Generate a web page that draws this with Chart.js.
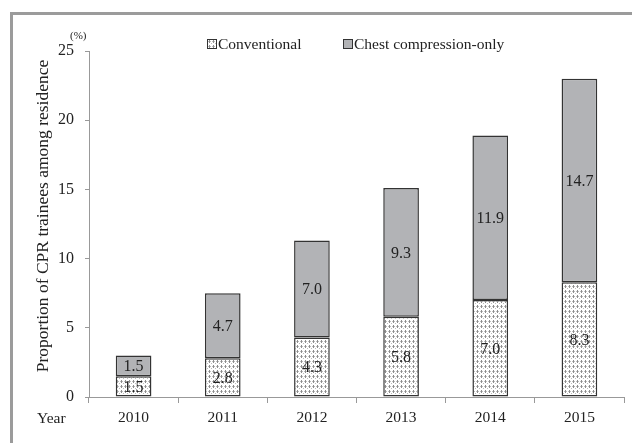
<!DOCTYPE html>
<html>
<head>
<meta charset="utf-8">
<script src="https://cdn.jsdelivr.net/npm/chart.js@4/dist/chart.umd.min.js"></script>
<style>
  html, body { margin: 0; padding: 0; background: #fff; }
  #wrap { position: relative; width: 632px; height: 443px; overflow: hidden; }
  #frame { position: absolute; left: 10px; top: 12px; width: 700px; height: 500px;
           border-left: 3px solid #9b9b9b; border-top: 3px solid #9b9b9b; }
  canvas { position: absolute; left: 0; top: 0; }
</style>
</head>
<body>
<div id="wrap">
  <div id="frame"></div>
  <canvas id="chart" width="632" height="443"></canvas>
</div>
<script>
const years = ['2010', '2011', '2012', '2013', '2014', '2015'];
const conventional = [1.5, 2.8, 4.3, 5.8, 7.0, 8.3];
const chestOnly = [1.5, 4.7, 7.0, 9.3, 11.9, 14.7];
const yTicks = [0, 5, 10, 15, 20, 25];

const serif = '"Liberation Serif", "DejaVu Serif", serif';

// dotted fill for the conventional bars
function makePattern() {
    const p = document.createElement('canvas');
    p.width = 4;
    p.height = 5;
    const c = p.getContext('2d');
    c.fillStyle = '#ffffff';
    c.fillRect(0, 0, 4, 5);
    c.fillStyle = '#8e8e8e';
    c.fillRect(1, 0, 1, 3);
    c.fillStyle = '#bdbdbd';
    c.fillRect(0, 1, 1, 1);
    c.fillRect(2, 1, 1, 1);
    c.fillRect(3, 3, 1, 1);
    return document.getElementById('chart').getContext('2d').createPattern(p, 'repeat');
}
const dots = makePattern();

const extras = {
    id: 'extras',
    afterDatasetsDraw(chart) {
        const ctx = chart.ctx;
        ctx.save();
        ctx.fillStyle = '#222';
        ctx.font = '16px ' + serif;
        ctx.textAlign = 'center';
        ctx.textBaseline = 'middle';
        chart.data.datasets.forEach((ds, i) => {
            chart.getDatasetMeta(i).data.forEach((bar, j) => {
                const mid = (bar.y + bar.base) / 2;
                ctx.fillText(ds.data[j].toFixed(1), bar.x, mid + 1);
            });
        });

        // y axis title, sits a bit above the middle of the plot
        ctx.save();
        ctx.translate(43, 216);
        ctx.rotate(-Math.PI / 2);
        ctx.font = '17.5px ' + serif;
        ctx.fillText('Proportion of CPR trainees among residence', 0, 0);
        ctx.restore();

        // legend
        ctx.textAlign = 'left';
        ctx.font = '15.5px ' + serif;
        const items = [
            { text: 'Conventional', fill: dots, x: 207 },
            { text: 'Chest compression-only', fill: '#b2b3b6', x: 343 }
        ];
        items.forEach(it => {
            ctx.fillStyle = it.fill;
            ctx.fillRect(it.x, 39, 9, 9);
            ctx.strokeStyle = '#333';
            ctx.lineWidth = 1;
            ctx.strokeRect(it.x + 0.5, 39.5, 9, 9);
            ctx.fillStyle = '#222';
            ctx.fillText(it.text, it.x + 11, 45);
        });

        ctx.font = '11px ' + serif;
        ctx.fillText('(%)', 70, 36);
        ctx.font = '15.5px ' + serif;
        ctx.fillText('Year', 37, 419);
        ctx.restore();
    }
};

new Chart(document.getElementById('chart'), {
    type: 'bar',
    data: {
        labels: years,
        datasets: [
            {
                label: 'Conventional',
                data: conventional,
                backgroundColor: dots,
                borderColor: '#333',
                borderWidth: 1.5,
                borderSkipped: false,
                barPercentage: 0.8,
                categoryPercentage: 0.5
            },
            {
                label: 'Chest compression-only',
                data: chestOnly,
                backgroundColor: '#b2b3b6',
                borderColor: '#333',
                borderWidth: 1.5,
                borderSkipped: false,
                barPercentage: 0.8,
                categoryPercentage: 0.5
            }
        ]
    },
    options: {
        responsive: false,
        animation: false,
        layout: { padding: { top: 51, right: 8, left: 0, bottom: 0 } },
        plugins: {
            legend: { display: false },
            tooltip: { enabled: false }
        },
        scales: {
            x: {
                stacked: true,
                offset: true,
                border: { color: '#999', width: 1 },
                grid: { display: true, drawOnChartArea: false, offset: true, tickLength: 6, color: '#999' },
                ticks: { color: '#222', font: { family: serif, size: 15.5 }, padding: 6 },
                afterFit(scale) { scale.height = 46; }
            },
            y: {
                stacked: true,
                min: 0,
                max: 25,
                afterBuildTicks(scale) { scale.ticks = yTicks.map(v => ({ value: v })); },
                border: { color: '#999', width: 1 },
                grid: { display: true, drawOnChartArea: false, tickLength: 4, color: '#999' },
                ticks: { color: '#222', font: { family: serif, size: 16 }, padding: 11 },
                afterFit(scale) { scale.width = 89; }
            }
        }
    },
    plugins: [extras]
});
</script>
</body>
</html>
